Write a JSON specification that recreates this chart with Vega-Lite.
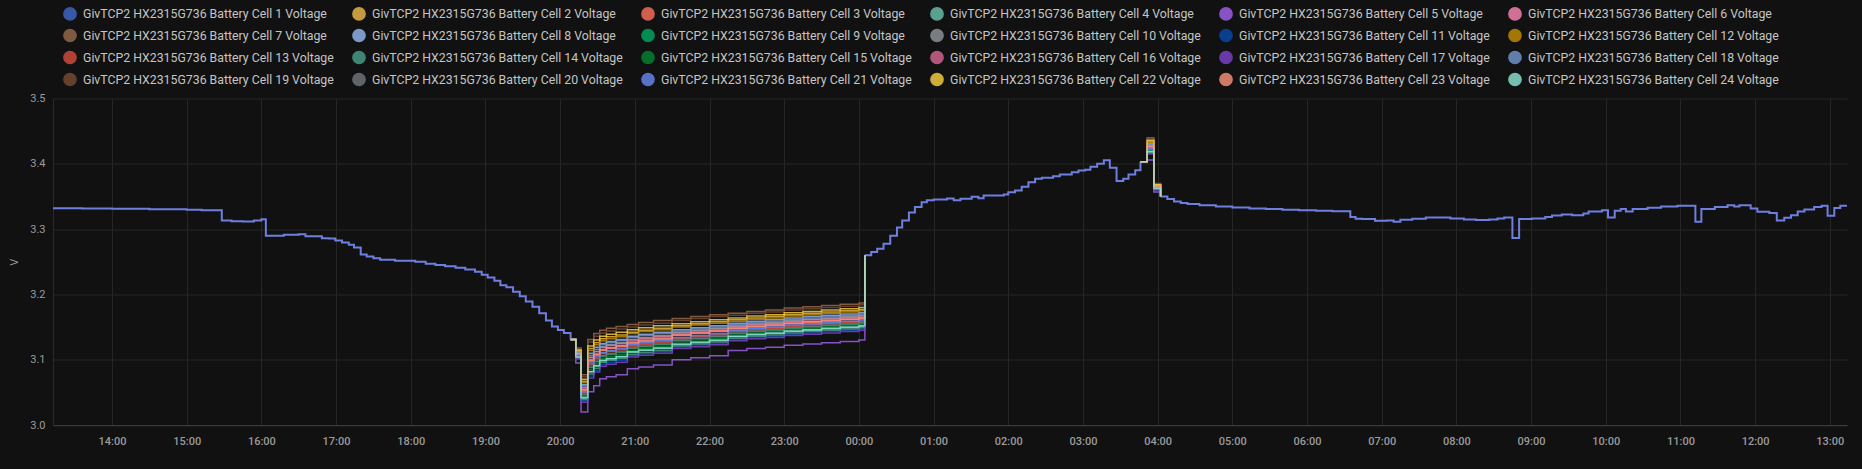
{
"$schema": "https://vega.github.io/schema/vega-lite/v6.json",
"width": 1794,
"height": 326.5,
"autosize": {"type": "none"},
"padding": {"left": 53, "top": 98.5, "right": 15, "bottom": 44},
"background": "#111111",
"config": {
  "view": {"stroke": null},
  "font": "Roboto",
  "axis": {"gridColor": "#262626", "gridWidth": 1, "ticks": false, "labelColor": "#9b9b9b", "labelFont": "Roboto", "labelFontSize": 11, "titleColor": "#9b9b9b", "titleFont": "Roboto", "titleFontSize": 11, "titleFontWeight": "normal"},
  "legend": {"orient": "none", "legendX": 10, "legendY": -92, "direction": "horizontal", "columns": 6, "symbolType": "circle", "symbolSize": 150, "symbolStrokeWidth": 1.5, "labelFont": "Roboto", "labelFontSize": 12.3, "labelColor": "#c5c5c5", "labelLimit": 0, "columnPadding": 15, "rowPadding": 2, "labelOffset": 6, "padding": 0}
},
"datasets": {
  "common": [
    {"seg":"a","t":13.21,"v":3.332},{"seg":"a","t":13.6,"v":3.3315},{"seg":"a","t":14.0,"v":3.331},{"seg":"a","t":14.5,"v":3.3305},{"seg":"a","t":15.0,"v":3.3295},{"seg":"a","t":15.2,"v":3.329},
    {"seg":"a","t":15.47,"v":3.313},{"seg":"a","t":15.6,"v":3.312},{"seg":"a","t":15.75,"v":3.3115},{"seg":"a","t":15.9,"v":3.313},{"seg":"a","t":16.0,"v":3.315},
    {"seg":"a","t":16.06,"v":3.290},{"seg":"a","t":16.3,"v":3.2915},{"seg":"a","t":16.5,"v":3.292},{"seg":"a","t":16.59,"v":3.289},{"seg":"a","t":16.81,"v":3.286},{"seg":"a","t":16.9,"v":3.2855},{"seg":"a","t":16.99,"v":3.2826},{"seg":"a","t":17.08,"v":3.2796},{"seg":"a","t":17.17,"v":3.276},{"seg":"a","t":17.24,"v":3.272},{"seg":"a","t":17.33,"v":3.261},{"seg":"a","t":17.41,"v":3.258},{"seg":"a","t":17.5,"v":3.2555},{"seg":"a","t":17.59,"v":3.253},{"seg":"a","t":17.79,"v":3.2515},{"seg":"a","t":18.06,"v":3.250},{"seg":"a","t":18.2,"v":3.247},{"seg":"a","t":18.33,"v":3.245},{"seg":"a","t":18.46,"v":3.243},{"seg":"a","t":18.6,"v":3.2407},{"seg":"a","t":18.73,"v":3.238},{"seg":"a","t":18.86,"v":3.2346},{"seg":"a","t":18.95,"v":3.230},{"seg":"a","t":19.03,"v":3.226},{"seg":"a","t":19.12,"v":3.221},{"seg":"a","t":19.2,"v":3.214},{"seg":"a","t":19.28,"v":3.211},{"seg":"a","t":19.37,"v":3.204},{"seg":"a","t":19.46,"v":3.197},{"seg":"a","t":19.54,"v":3.189},{"seg":"a","t":19.63,"v":3.181},{"seg":"a","t":19.72,"v":3.171},{"seg":"a","t":19.81,"v":3.160},{"seg":"a","t":19.89,"v":3.151},{"seg":"a","t":19.97,"v":3.1456},{"seg":"a","t":20.05,"v":3.141},{"seg":"a","t":20.14,"v":3.131},
    {"seg":"b","t":24.08,"v":3.260},{"seg":"b","t":24.165,"v":3.265},{"seg":"b","t":24.245,"v":3.270},{"seg":"b","t":24.33,"v":3.2775},{"seg":"b","t":24.42,"v":3.290},{"seg":"b","t":24.51,"v":3.3025},{"seg":"b","t":24.58,"v":3.313},{"seg":"b","t":24.67,"v":3.3254},{"seg":"b","t":24.75,"v":3.334},{"seg":"b","t":24.84,"v":3.341},{"seg":"b","t":24.91,"v":3.3443},{"seg":"b","t":25.0,"v":3.3453},{"seg":"b","t":25.18,"v":3.347},{"seg":"b","t":25.27,"v":3.344},{"seg":"b","t":25.36,"v":3.3464},{"seg":"b","t":25.51,"v":3.3495},{"seg":"b","t":25.6,"v":3.3474},{"seg":"b","t":25.67,"v":3.3515},{"seg":"b","t":25.94,"v":3.353},{"seg":"b","t":26.0,"v":3.3565},{"seg":"b","t":26.09,"v":3.359},{"seg":"b","t":26.18,"v":3.3648},{"seg":"b","t":26.27,"v":3.3718},{"seg":"b","t":26.36,"v":3.377},{"seg":"b","t":26.45,"v":3.3785},{"seg":"b","t":26.6,"v":3.381},{"seg":"b","t":26.69,"v":3.3836},{"seg":"b","t":26.85,"v":3.387},{"seg":"b","t":26.94,"v":3.3897},{"seg":"b","t":27.03,"v":3.391},{"seg":"b","t":27.1,"v":3.3954},{"seg":"b","t":27.19,"v":3.400},{"seg":"b","t":27.28,"v":3.4055},{"seg":"b","t":27.36,"v":3.394},{"seg":"b","t":27.45,"v":3.3735},{"seg":"b","t":27.54,"v":3.377},{"seg":"b","t":27.61,"v":3.3836},{"seg":"b","t":27.7,"v":3.390},{"seg":"b","t":27.77,"v":3.403},
    {"seg":"c","t":28.04,"v":3.350},{"seg":"c","t":28.13,"v":3.346},{"seg":"c","t":28.22,"v":3.3423},{"seg":"c","t":28.31,"v":3.3398},{"seg":"c","t":28.4,"v":3.3383},{"seg":"c","t":28.56,"v":3.3367},{"seg":"c","t":28.78,"v":3.3346},{"seg":"c","t":29.0,"v":3.333},{"seg":"c","t":29.23,"v":3.3316},{"seg":"c","t":29.45,"v":3.3306},{"seg":"c","t":29.67,"v":3.3296},{"seg":"c","t":29.89,"v":3.329},{"seg":"c","t":30.12,"v":3.328},{"seg":"c","t":30.34,"v":3.3275},{"seg":"c","t":30.58,"v":3.3184},{"seg":"c","t":30.65,"v":3.3158},{"seg":"c","t":30.74,"v":3.3153},{"seg":"c","t":30.91,"v":3.3127},{"seg":"c","t":31.07,"v":3.3132},{"seg":"c","t":31.16,"v":3.3112},{"seg":"c","t":31.25,"v":3.3142},{"seg":"c","t":31.41,"v":3.3158},{"seg":"c","t":31.59,"v":3.3178},{"seg":"c","t":31.92,"v":3.3162},{"seg":"c","t":32.1,"v":3.3147},{"seg":"c","t":32.26,"v":3.3138},{"seg":"c","t":32.44,"v":3.3147},{"seg":"c","t":32.55,"v":3.3162},{"seg":"c","t":32.64,"v":3.3178},{"seg":"c","t":32.75,"v":3.2862},{"seg":"c","t":32.84,"v":3.3153},{"seg":"c","t":33.01,"v":3.3162},{"seg":"c","t":33.19,"v":3.3184},{"seg":"c","t":33.28,"v":3.3208},{"seg":"c","t":33.41,"v":3.3224},{"seg":"c","t":33.55,"v":3.3214},{"seg":"c","t":33.7,"v":3.3239},{"seg":"c","t":33.77,"v":3.327},{"seg":"c","t":33.95,"v":3.329},{"seg":"c","t":34.03,"v":3.3178},{"seg":"c","t":34.12,"v":3.328},{"seg":"c","t":34.2,"v":3.3306},{"seg":"c","t":34.27,"v":3.327},{"seg":"c","t":34.36,"v":3.3306},{"seg":"c","t":34.56,"v":3.3326},{"seg":"c","t":34.74,"v":3.3346},{"seg":"c","t":34.96,"v":3.3357},{"seg":"c","t":35.2,"v":3.3112},{"seg":"c","t":35.28,"v":3.3306},{"seg":"c","t":35.46,"v":3.3337},{"seg":"c","t":35.63,"v":3.3367},{"seg":"c","t":35.72,"v":3.3346},{"seg":"c","t":35.79,"v":3.3367},{"seg":"c","t":35.94,"v":3.3316},{"seg":"c","t":36.03,"v":3.3265},{"seg":"c","t":36.19,"v":3.3245},{"seg":"c","t":36.29,"v":3.3132},{"seg":"c","t":36.39,"v":3.3173},{"seg":"c","t":36.48,"v":3.3214},{"seg":"c","t":36.57,"v":3.327},{"seg":"c","t":36.66,"v":3.330},{"seg":"c","t":36.79,"v":3.3337},{"seg":"c","t":36.89,"v":3.3357},{"seg":"c","t":36.97,"v":3.3204},{"seg":"c","t":37.06,"v":3.3322},{"seg":"c","t":37.14,"v":3.3357},{"seg":"c","t":37.23,"v":3.3357}
  ],
  "fan": [
    {"seg":"f1","t":20.14,"c1":3.131,"c2":3.131,"c3":3.131,"c4":3.131,"c5":3.131,"c6":3.131,"c7":3.131,"c8":3.131,"c9":3.131,"c10":3.131,"c11":3.131,"c12":3.131,"c13":3.131,"c14":3.131,"c15":3.131,"c16":3.131,"c17":3.131,"c18":3.131,"c19":3.131,"c20":3.131,"c21":3.131,"c22":3.131,"c23":3.131,"c24":3.131},
    {"seg":"f1","t":20.21,"c1":3.107,"c2":3.114,"c3":3.108,"c4":3.104,"c5":3.095,"c6":3.110,"c7":3.118,"c8":3.112,"c9":3.106,"c10":3.110,"c11":3.102,"c12":3.113,"c13":3.107,"c14":3.103,"c15":3.105,"c16":3.109,"c17":3.101,"c18":3.111,"c19":3.117,"c20":3.106,"c21":3.108,"c22":3.115,"c23":3.109,"c24":3.104},
    {"seg":"f1","t":20.28,"c1":3.050,"c2":3.067,"c3":3.053,"c4":3.041,"c5":3.020,"c6":3.057,"c7":3.077,"c8":3.062,"c9":3.046,"c10":3.058,"c11":3.037,"c12":3.065,"c13":3.049,"c14":3.039,"c15":3.044,"c16":3.055,"c17":3.035,"c18":3.060,"c19":3.074,"c20":3.047,"c21":3.051,"c22":3.070,"c23":3.054,"c24":3.042},
    {"seg":"f1","t":20.37,"c1":3.093,"c2":3.117,"c3":3.097,"c4":3.081,"c5":3.051,"c6":3.103,"c7":3.131,"c8":3.110,"c9":3.088,"c10":3.104,"c11":3.075,"c12":3.114,"c13":3.092,"c14":3.078,"c15":3.085,"c16":3.100,"c17":3.072,"c18":3.107,"c19":3.127,"c20":3.089,"c21":3.095,"c22":3.121,"c23":3.099,"c24":3.082},
    {"seg":"f1","t":20.45,"c1":3.102,"c2":3.126,"c3":3.106,"c4":3.090,"c5":3.060,"c6":3.112,"c7":3.140,"c8":3.119,"c9":3.097,"c10":3.113,"c11":3.084,"c12":3.123,"c13":3.101,"c14":3.087,"c15":3.094,"c16":3.109,"c17":3.081,"c18":3.116,"c19":3.136,"c20":3.098,"c21":3.104,"c22":3.130,"c23":3.108,"c24":3.091},
    {"seg":"f1","t":20.53,"c1":3.110,"c2":3.132,"c3":3.114,"c4":3.098,"c5":3.071,"c6":3.119,"c7":3.145,"c8":3.125,"c9":3.105,"c10":3.120,"c11":3.093,"c12":3.129,"c13":3.109,"c14":3.096,"c15":3.102,"c16":3.116,"c17":3.090,"c18":3.123,"c19":3.141,"c20":3.106,"c21":3.111,"c22":3.136,"c23":3.115,"c24":3.099},
    {"seg":"f1","t":20.62,"c1":3.113,"c2":3.135,"c3":3.117,"c4":3.101,"c5":3.074,"c6":3.122,"c7":3.148,"c8":3.128,"c9":3.108,"c10":3.123,"c11":3.096,"c12":3.132,"c13":3.112,"c14":3.099,"c15":3.105,"c16":3.119,"c17":3.093,"c18":3.126,"c19":3.144,"c20":3.109,"c21":3.114,"c22":3.139,"c23":3.118,"c24":3.102},
    {"seg":"f1","t":20.75,"c1":3.116,"c2":3.138,"c3":3.120,"c4":3.104,"c5":3.077,"c6":3.125,"c7":3.151,"c8":3.131,"c9":3.111,"c10":3.126,"c11":3.099,"c12":3.135,"c13":3.115,"c14":3.102,"c15":3.108,"c16":3.122,"c17":3.096,"c18":3.129,"c19":3.147,"c20":3.112,"c21":3.117,"c22":3.142,"c23":3.121,"c24":3.105},
    {"seg":"f1","t":20.9,"c1":3.122,"c2":3.142,"c3":3.125,"c4":3.111,"c5":3.086,"c6":3.130,"c7":3.154,"c8":3.136,"c9":3.117,"c10":3.131,"c11":3.106,"c12":3.140,"c13":3.120,"c14":3.108,"c15":3.114,"c16":3.128,"c17":3.104,"c18":3.134,"c19":3.150,"c20":3.118,"c21":3.123,"c22":3.146,"c23":3.126,"c24":3.112},
    {"seg":"f1","t":21.05,"c1":3.125,"c2":3.145,"c3":3.128,"c4":3.114,"c5":3.089,"c6":3.133,"c7":3.157,"c8":3.139,"c9":3.120,"c10":3.134,"c11":3.109,"c12":3.143,"c13":3.123,"c14":3.111,"c15":3.117,"c16":3.131,"c17":3.107,"c18":3.137,"c19":3.153,"c20":3.121,"c21":3.126,"c22":3.149,"c23":3.129,"c24":3.115},
    {"seg":"f1","t":21.25,"c1":3.128,"c2":3.148,"c3":3.131,"c4":3.117,"c5":3.092,"c6":3.136,"c7":3.160,"c8":3.142,"c9":3.123,"c10":3.137,"c11":3.112,"c12":3.146,"c13":3.126,"c14":3.114,"c15":3.120,"c16":3.134,"c17":3.110,"c18":3.140,"c19":3.156,"c20":3.124,"c21":3.129,"c22":3.152,"c23":3.132,"c24":3.118},
    {"seg":"f1","t":21.5,"c1":3.133,"c2":3.152,"c3":3.137,"c4":3.123,"c5":3.100,"c6":3.141,"c7":3.163,"c8":3.146,"c9":3.129,"c10":3.142,"c11":3.119,"c12":3.150,"c13":3.132,"c14":3.121,"c15":3.127,"c16":3.139,"c17":3.117,"c18":3.144,"c19":3.160,"c20":3.130,"c21":3.134,"c22":3.155,"c23":3.138,"c24":3.124},
    {"seg":"f1","t":21.75,"c1":3.136,"c2":3.155,"c3":3.140,"c4":3.126,"c5":3.103,"c6":3.144,"c7":3.166,"c8":3.149,"c9":3.132,"c10":3.145,"c11":3.122,"c12":3.153,"c13":3.135,"c14":3.124,"c15":3.130,"c16":3.142,"c17":3.120,"c18":3.147,"c19":3.163,"c20":3.133,"c21":3.137,"c22":3.158,"c23":3.141,"c24":3.127},
    {"seg":"f1","t":22.0,"c1":3.139,"c2":3.158,"c3":3.143,"c4":3.129,"c5":3.106,"c6":3.147,"c7":3.169,"c8":3.152,"c9":3.135,"c10":3.148,"c11":3.125,"c12":3.156,"c13":3.138,"c14":3.127,"c15":3.133,"c16":3.145,"c17":3.123,"c18":3.150,"c19":3.166,"c20":3.136,"c21":3.140,"c22":3.161,"c23":3.144,"c24":3.130},
    {"seg":"f1","t":22.25,"c1":3.144,"c2":3.161,"c3":3.147,"c4":3.135,"c5":3.114,"c6":3.151,"c7":3.171,"c8":3.156,"c9":3.140,"c10":3.152,"c11":3.131,"c12":3.159,"c13":3.143,"c14":3.133,"c15":3.138,"c16":3.149,"c17":3.129,"c18":3.154,"c19":3.168,"c20":3.141,"c21":3.145,"c22":3.164,"c23":3.148,"c24":3.136},
    {"seg":"f1","t":22.5,"c1":3.147,"c2":3.164,"c3":3.150,"c4":3.138,"c5":3.117,"c6":3.154,"c7":3.174,"c8":3.159,"c9":3.143,"c10":3.155,"c11":3.134,"c12":3.162,"c13":3.146,"c14":3.136,"c15":3.141,"c16":3.152,"c17":3.132,"c18":3.157,"c19":3.171,"c20":3.144,"c21":3.148,"c22":3.167,"c23":3.151,"c24":3.139},
    {"seg":"f1","t":22.75,"c1":3.149,"c2":3.166,"c3":3.152,"c4":3.140,"c5":3.119,"c6":3.156,"c7":3.176,"c8":3.161,"c9":3.145,"c10":3.157,"c11":3.136,"c12":3.164,"c13":3.148,"c14":3.138,"c15":3.143,"c16":3.154,"c17":3.134,"c18":3.159,"c19":3.173,"c20":3.146,"c21":3.150,"c22":3.169,"c23":3.153,"c24":3.141},
    {"seg":"f1","t":23.0,"c1":3.152,"c2":3.169,"c3":3.155,"c4":3.143,"c5":3.122,"c6":3.159,"c7":3.179,"c8":3.164,"c9":3.148,"c10":3.160,"c11":3.139,"c12":3.167,"c13":3.151,"c14":3.141,"c15":3.146,"c16":3.157,"c17":3.137,"c18":3.162,"c19":3.176,"c20":3.149,"c21":3.153,"c22":3.172,"c23":3.156,"c24":3.144},
    {"seg":"f1","t":23.25,"c1":3.154,"c2":3.171,"c3":3.157,"c4":3.145,"c5":3.124,"c6":3.161,"c7":3.181,"c8":3.166,"c9":3.150,"c10":3.162,"c11":3.141,"c12":3.169,"c13":3.153,"c14":3.143,"c15":3.148,"c16":3.159,"c17":3.139,"c18":3.164,"c19":3.178,"c20":3.151,"c21":3.155,"c22":3.174,"c23":3.158,"c24":3.146},
    {"seg":"f1","t":23.5,"c1":3.156,"c2":3.173,"c3":3.159,"c4":3.147,"c5":3.126,"c6":3.163,"c7":3.183,"c8":3.168,"c9":3.152,"c10":3.164,"c11":3.143,"c12":3.171,"c13":3.155,"c14":3.145,"c15":3.150,"c16":3.161,"c17":3.141,"c18":3.166,"c19":3.180,"c20":3.153,"c21":3.157,"c22":3.176,"c23":3.160,"c24":3.148},
    {"seg":"f1","t":23.75,"c1":3.158,"c2":3.175,"c3":3.161,"c4":3.149,"c5":3.128,"c6":3.165,"c7":3.185,"c8":3.170,"c9":3.154,"c10":3.166,"c11":3.145,"c12":3.173,"c13":3.157,"c14":3.147,"c15":3.152,"c16":3.163,"c17":3.143,"c18":3.168,"c19":3.182,"c20":3.155,"c21":3.159,"c22":3.178,"c23":3.162,"c24":3.150},
    {"seg":"f1","t":24.0,"c1":3.160,"c2":3.177,"c3":3.163,"c4":3.151,"c5":3.130,"c6":3.167,"c7":3.187,"c8":3.172,"c9":3.156,"c10":3.168,"c11":3.147,"c12":3.175,"c13":3.159,"c14":3.149,"c15":3.154,"c16":3.165,"c17":3.145,"c18":3.170,"c19":3.184,"c20":3.157,"c21":3.161,"c22":3.180,"c23":3.164,"c24":3.152},
    {"seg":"f1","t":24.08,"c1":3.260,"c2":3.260,"c3":3.260,"c4":3.260,"c5":3.260,"c6":3.260,"c7":3.260,"c8":3.260,"c9":3.260,"c10":3.260,"c11":3.260,"c12":3.260,"c13":3.260,"c14":3.260,"c15":3.260,"c16":3.260,"c17":3.260,"c18":3.260,"c19":3.260,"c20":3.260,"c21":3.260,"c22":3.260,"c23":3.260,"c24":3.260},
    {"seg":"f2","t":27.77,"c1":3.403,"c2":3.403,"c3":3.403,"c4":3.403,"c5":3.403,"c6":3.403,"c7":3.403,"c8":3.403,"c9":3.403,"c10":3.403,"c11":3.403,"c12":3.403,"c13":3.403,"c14":3.403,"c15":3.403,"c16":3.403,"c17":3.403,"c18":3.403,"c19":3.403,"c20":3.403,"c21":3.403,"c22":3.403,"c23":3.403,"c24":3.403},
    {"seg":"f2","t":27.86,"c1":3.424,"c2":3.434,"c3":3.426,"c4":3.418,"c5":3.406,"c6":3.428,"c7":3.440,"c8":3.431,"c9":3.421,"c10":3.429,"c11":3.416,"c12":3.433,"c13":3.423,"c14":3.417,"c15":3.420,"c16":3.427,"c17":3.415,"c18":3.430,"c19":3.438,"c20":3.422,"c21":3.424,"c22":3.436,"c23":3.426,"c24":3.419},
    {"seg":"f2","t":27.95,"c1":3.364,"c2":3.368,"c3":3.364,"c4":3.362,"c5":3.357,"c6":3.365,"c7":3.370,"c8":3.367,"c9":3.363,"c10":3.366,"c11":3.361,"c12":3.367,"c13":3.364,"c14":3.361,"c15":3.362,"c16":3.365,"c17":3.360,"c18":3.366,"c19":3.369,"c20":3.363,"c21":3.364,"c22":3.368,"c23":3.365,"c24":3.362},
    {"seg":"f2","t":28.04,"c1":3.350,"c2":3.350,"c3":3.350,"c4":3.350,"c5":3.350,"c6":3.350,"c7":3.350,"c8":3.350,"c9":3.350,"c10":3.350,"c11":3.350,"c12":3.350,"c13":3.350,"c14":3.350,"c15":3.350,"c16":3.350,"c17":3.350,"c18":3.350,"c19":3.350,"c20":3.350,"c21":3.350,"c22":3.350,"c23":3.350,"c24":3.350}
  ]
},
"encoding": {
  "x": {"field": "t", "type": "quantitative", "scale": {"domain": [13.21, 37.23], "nice": false, "zero": false},
        "axis": {"title": null, "values": [14,15,16,17,18,19,20,21,22,23,24,25,26,27,28,29,30,31,32,33,34,35,36,37], "labelExpr": "(datum.value % 24 < 10 ? '0' : '') + (datum.value % 24) + ':00'", "labelFontWeight": 500, "labelPadding": 10, "domainColor": "#3a3a3a", "labelFlush": false}},
  "y": {"field": "v", "type": "quantitative", "scale": {"domain": [3.0, 3.5], "nice": false, "zero": false},
        "axis": {"title": "V", "values": [3.0,3.1,3.2,3.3,3.4,3.5], "format": ".1f", "labelPadding": 8, "titlePadding": 10, "domain": true, "domainColor": "#2a2a2a"}}
},
"layer": [
  {
    "data": {"name": "fan"},
    "transform": [{"fold": ["c1","c2","c3","c4","c5","c6","c7","c8","c9","c10","c11","c12","c13","c14","c15","c16","c17","c18","c19","c20","c21","c22","c23","c24"], "as": ["cell", "v"]}],
    "mark": {"type": "point", "filled": true, "shape": "circle", "opacity": 0, "size": 1},
    "encoding": {
      "color": {"field": "cell", "type": "nominal",
        "scale": {"domain": ["c1","c2","c3","c4","c5","c6","c7","c8","c9","c10","c11","c12","c13","c14","c15","c16","c17","c18","c19","c20","c21","c22","c23","c24"],
                  "range": ["#4269d0","#f4bd4a","#ff725c","#6cc5b0","#a463f2","#ff8ab7","#9c6b4e","#97bbf5","#01ab63","#9498a0","#094bad","#c99000","#d84f3e","#49a28f","#048732","#d96895","#8043ce","#7599d1","#7a4c31","#74787f","#6989f4","#ffd444","#ff957c","#8fe9d3"]},
        "legend": {"title": null, "labelExpr": "'GivTCP2 HX2315G736 Battery Cell ' + slice(datum.label, 1) + ' Voltage'", "symbolOpacity": 0.62}
      }
    }
  },
  {
    "data": {"name": "common"},
    "mark": {"type": "line", "interpolate": "step-after", "color": "#6f7fe0", "strokeWidth": 2},
    "encoding": {"detail": {"field": "seg"}}
  },
  {
    "data": {"name": "fan"},
    "transform": [{"fold": ["c1","c2","c3","c4","c5","c6","c7","c8","c9","c10","c11","c12","c13","c14","c15","c16","c17","c18","c19","c20","c21","c22","c23","c24"], "as": ["cell", "v"]}],
    "mark": {"type": "line", "interpolate": "step-after", "strokeWidth": 1.5, "opacity": 0.8},
    "encoding": {
      "detail": {"field": "seg"},
      "color": {"field": "cell", "type": "nominal"}
    }
  }
]
}
